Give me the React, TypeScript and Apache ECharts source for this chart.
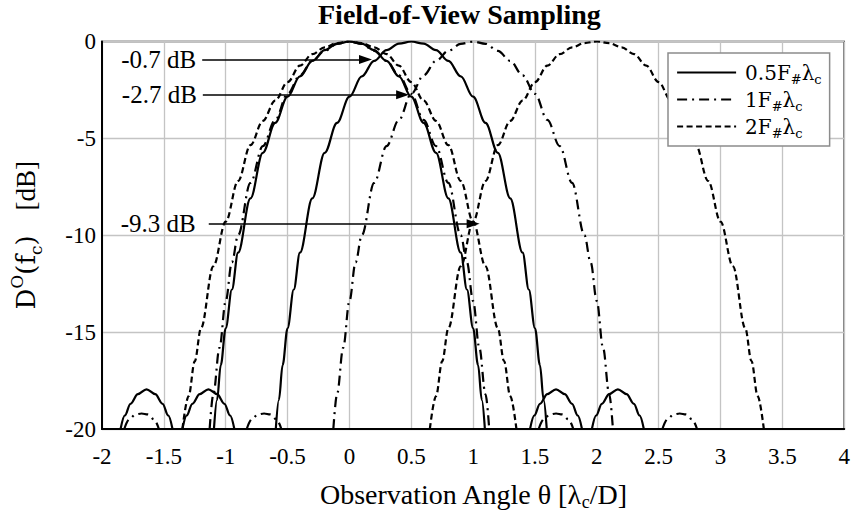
import React, { useEffect, useRef } from "react";
import * as echarts from "echarts";

// ---- tick settings ----
const xMin = -2;
const xMax = 4;
const xStep = 0.5;
const yMin = -20;
const yMax = 0;
const yStep = 5;

// ---- legend names ----
const names = ["0.5F", "1F", "2F"];

// ---- 0.5 F#λc (solid): beams at 0 and 0.5 ----
const solidMain0 = [[-1.095,-20],[-1.07,-18.5],[-1.04,-16.7],[-1.0,-14.8],[-0.95,-12.8],[-0.9,-10.9],[-0.8,-8.1],[-0.7,-5.75],[-0.6,-4.2],[-0.5,-2.85],[-0.4,-1.8],[-0.3,-1.0],[-0.2,-0.45],[-0.1,-0.11],[0,0],[0.1,-0.11],[0.2,-0.45],[0.3,-1.0],[0.4,-1.8],[0.5,-2.85],[0.6,-4.2],[0.7,-5.75],[0.8,-8.1],[0.9,-10.9],[0.95,-12.8],[1.0,-14.8],[1.04,-16.7],[1.07,-18.5],[1.095,-20]];
const solidMain05 = [[-0.595,-20],[-0.57,-18.5],[-0.54,-16.7],[-0.5,-14.8],[-0.45,-12.8],[-0.4,-10.9],[-0.3,-8.1],[-0.2,-5.75],[-0.1,-4.2],[0,-2.85],[0.1,-1.8],[0.2,-1.0],[0.3,-0.45],[0.4,-0.11],[0.5,0],[0.6,-0.11],[0.7,-0.45],[0.8,-1.0],[0.9,-1.8],[1.0,-2.85],[1.1,-4.2],[1.2,-5.75],[1.3,-8.1],[1.4,-10.9],[1.45,-12.8],[1.5,-14.8],[1.54,-16.7],[1.57,-18.5],[1.595,-20]];
const solidSide0L = [[-1.85,-20],[-1.815,-19.3],[-1.77,-18.7],[-1.71,-18.2],[-1.64,-17.95],[-1.57,-18.2],[-1.51,-18.7],[-1.465,-19.3],[-1.43,-20]];
const solidSide0R = [[1.46,-20],[1.495,-19.3],[1.54,-18.7],[1.6,-18.2],[1.67,-17.95],[1.74,-18.2],[1.8,-18.7],[1.845,-19.3],[1.88,-20]];
const solidSide05L = [[-1.35,-20],[-1.315,-19.3],[-1.27,-18.7],[-1.21,-18.2],[-1.14,-17.95],[-1.07,-18.2],[-1.01,-18.7],[-0.965,-19.3],[-0.93,-20]];
const solidSide05R = [[1.96,-20],[1.995,-19.3],[2.04,-18.7],[2.1,-18.2],[2.17,-17.95],[2.24,-18.2],[2.3,-18.7],[2.345,-19.3],[2.38,-20]];

// ---- 1 F#λc (dash-dot): beams at 0 and 1 ----
const dashDotMain0 = [[-1.13,-20],[-1.1,-18.2],[-1.05,-15.8],[-1.0,-13.4],[-0.95,-11.4],[-0.9,-10.0],[-0.8,-7.3],[-0.7,-5.4],[-0.6,-4.05],[-0.5,-2.7],[-0.4,-1.75],[-0.3,-1.0],[-0.2,-0.48],[-0.1,-0.12],[0,0],[0.1,-0.12],[0.2,-0.48],[0.3,-1.0],[0.4,-1.75],[0.5,-2.7],[0.6,-4.05],[0.7,-5.4],[0.8,-7.3],[0.9,-10.0],[0.95,-11.4],[1.0,-13.4],[1.05,-15.8],[1.1,-18.2],[1.13,-20]];
const dashDotMain1 = [[-0.13,-20],[-0.1,-18.2],[-0.05,-15.8],[0,-13.4],[0.05,-11.4],[0.1,-10.0],[0.2,-7.3],[0.3,-5.4],[0.4,-4.05],[0.5,-2.7],[0.6,-1.75],[0.7,-1.0],[0.8,-0.48],[0.9,-0.12],[1,0],[1.1,-0.12],[1.2,-0.48],[1.3,-1.0],[1.4,-1.75],[1.5,-2.7],[1.6,-4.05],[1.7,-5.4],[1.8,-7.3],[1.9,-10.0],[1.95,-11.4],[2.0,-13.4],[2.05,-15.8],[2.1,-18.2],[2.13,-20]];
const dashDotSide0L = [[-1.82,-20],[-1.78,-19.5],[-1.73,-19.25],[-1.68,-19.2],[-1.63,-19.25],[-1.58,-19.5],[-1.54,-20]];
const dashDotSide0R = [[1.53,-20],[1.57,-19.5],[1.62,-19.25],[1.67,-19.2],[1.72,-19.25],[1.77,-19.5],[1.81,-20]];
const dashDotSide1L = [[-0.83,-20],[-0.79,-19.5],[-0.74,-19.25],[-0.69,-19.2],[-0.64,-19.25],[-0.59,-19.5],[-0.55,-20]];
const dashDotSide1R = [[2.53,-20],[2.57,-19.5],[2.62,-19.25],[2.67,-19.2],[2.72,-19.25],[2.77,-19.5],[2.81,-20]];

// ---- 2 F#λc (dashed): beams at 0 and 2 ----
const dashedMain0 = [[-1.35,-20],[-1.3,-18.3],[-1.25,-16.5],[-1.2,-14.8],[-1.1,-11.6],[-1.0,-9.3],[-0.9,-7.2],[-0.8,-5.35],[-0.7,-4.1],[-0.6,-3.05],[-0.5,-2.1],[-0.4,-1.25],[-0.3,-0.65],[-0.2,-0.3],[-0.1,-0.08],[0,0],[0.1,-0.08],[0.2,-0.3],[0.3,-0.65],[0.4,-1.25],[0.5,-2.1],[0.6,-3.05],[0.7,-4.1],[0.8,-5.35],[0.9,-7.2],[1.0,-9.3],[1.1,-11.6],[1.2,-14.8],[1.25,-16.5],[1.3,-18.3],[1.35,-20]];
const dashedMain2 = [[0.65,-20],[0.7,-18.3],[0.75,-16.5],[0.8,-14.8],[0.9,-11.6],[1.0,-9.3],[1.1,-7.2],[1.2,-5.35],[1.3,-4.1],[1.4,-3.05],[1.5,-2.1],[1.6,-1.25],[1.7,-0.65],[1.8,-0.3],[1.9,-0.08],[2,0],[2.1,-0.08],[2.2,-0.3],[2.3,-0.65],[2.4,-1.25],[2.5,-2.1],[2.6,-3.05],[2.7,-4.1],[2.8,-5.35],[2.9,-7.2],[3.0,-9.3],[3.1,-11.6],[3.2,-14.8],[3.25,-16.5],[3.3,-18.3],[3.35,-20]];

// ---- annotations: label, arrow start θ, arrow tip θ, level dB ----
const annoLabels = ["-0.7 dB", "-2.7 dB", "-9.3 dB"];
const annoStart = [-1.19, -1.185, -1.137];
const annoEnd = [0.13, 0.43, 1.0];
const annoLevel = [-0.93, -2.75, -9.4];

const SERIF = "'Liberation Serif', 'Times New Roman', serif";
const MATH = "'DejaVu Serif', serif";

const styles: Record<string, any> = {
  "0.5F": { type: "solid", width: 2.2 },
  "1F": { type: [10, 5, 2, 5], width: 2.2 },
  "2F": { type: [6, 3.5], width: 2.2 },
};

function mk(name: string, data: number[][], extra: any = {}) {
  return {
    type: "line",
    name,
    data,
    symbol: "none",
    showSymbol: false,
    smooth: 0.35,
    smoothMonotone: "x",
    clip: true,
    color: "#000",
    lineStyle: { color: "#000", ...styles[name] },
    emphasis: { disabled: true },
    ...extra,
  };
}

export default function App() {
  const ref = useRef<HTMLDivElement>(null);
  useEffect(() => {
    const chart = echarts.init(ref.current!, null, { renderer: "svg" });
    const markData = annoLabels.map((lab, i) => [
      {
        name: lab,
        coord: [annoStart[i], annoLevel[i]],
        label: { distance: i === 2 ? 13 : 6 },
      },
      { coord: [annoEnd[i], annoLevel[i]] },
    ]);
    const option: any = {
      animation: false,
      backgroundColor: "#fff",
      title: {
        text: "Field-of-View Sampling",
        left: 318,
        top: 0,
        padding: 0,
        textStyle: { fontFamily: SERIF, fontWeight: "bold", fontSize: 28, color: "#000" },
      },
      legend: {
        data: names,
        orient: "vertical",
        left: 668,
        top: 53,
        padding: [6, 8, 6, 8],
        itemGap: 0,
        itemWidth: 59,
        itemHeight: 14,
        backgroundColor: "#fff",
        borderColor: "#8c8c8c",
        borderWidth: 1.5,
        borderRadius: 0,
        selectedMode: false,
        itemStyle: { opacity: 0 },
        lineStyle: { width: 2.2 },
        formatter: (n: string) => `${n}{s|#}λ{s|c}`,
        textStyle: {
          fontFamily: MATH,
          fontSize: 20,
          color: "#000",
          lineHeight: 27,
          padding: [0, 0, 0, 4],
          rich: {
            s: { fontFamily: MATH, fontSize: 13, color: "#000", verticalAlign: "bottom", lineHeight: 27 },
          },
        },
      },
      grid: {
        left: 98,
        right: 8,
        top: 41.5,
        bottom: 82,
        show: true,
        borderColor: "#000",
        borderWidth: 1.5,
        containLabel: false,
      },
      xAxis: {
        type: "value",
        min: xMin,
        max: xMax,
        interval: xStep,
        name: "Observation Angle θ [λ{sub|c}/D]",
        nameLocation: "middle",
        nameGap: 48,
        nameTextStyle: {
          fontFamily: SERIF,
          fontSize: 28,
          color: "#000",
          lineHeight: 34,
          rich: { sub: { fontFamily: SERIF, fontSize: 18, color: "#000", verticalAlign: "bottom", lineHeight: 34 } },
        },
        axisLine: { show: true, onZero: false, lineStyle: { color: "#000", width: 2 } },
        axisTick: { show: false },
        axisLabel: { fontFamily: SERIF, fontSize: 23, color: "#000", margin: 16 },
        splitLine: { show: true, lineStyle: { color: "#c4c4c4", width: 1.3 } },
      },
      yAxis: {
        type: "value",
        min: yMin,
        max: yMax,
        interval: yStep,
        name: "D{sup|O}(f{sub|c})   {db|[dB]}",
        nameLocation: "middle",
        nameGap: 58,
        nameTextStyle: {
          fontFamily: MATH,
          fontSize: 26,
          color: "#000",
          lineHeight: 36,
          rich: {
            sup: { fontFamily: MATH, fontSize: 17, color: "#000", verticalAlign: "top", lineHeight: 36 },
            sub: { fontFamily: MATH, fontSize: 17, color: "#000", verticalAlign: "bottom", lineHeight: 36 },
            db: { fontFamily: SERIF, fontSize: 27, color: "#000", lineHeight: 36 },
          },
        },
        axisLine: { show: true, onZero: false, lineStyle: { color: "#000", width: 2 } },
        axisTick: { show: false },
        axisLabel: { fontFamily: SERIF, fontSize: 23, color: "#000", margin: 6 },
        splitLine: { show: true, lineStyle: { color: "#c4c4c4", width: 1.3 } },
      },
      series: [
        mk("0.5F", solidMain0, {
          markLine: {
            silent: true,
            animation: false,
            symbol: ["none", "triangle"],
            symbolSize: [9, 13],
            lineStyle: { color: "#000", width: 1.5, type: "solid" },
            label: {
              show: true,
              position: "start",
              formatter: "{b}",
              fontFamily: SERIF,
              fontSize: 25,
              color: "#000",
            },
            data: markData,
          },
        }),
        mk("0.5F", solidMain05),
        mk("0.5F", solidSide0L),
        mk("0.5F", solidSide0R),
        mk("0.5F", solidSide05L),
        mk("0.5F", solidSide05R),
        mk("1F", dashDotMain0),
        mk("1F", dashDotMain1),
        mk("1F", dashDotSide0L),
        mk("1F", dashDotSide0R),
        mk("1F", dashDotSide1L),
        mk("1F", dashDotSide1R),
        mk("2F", dashedMain0),
        mk("2F", dashedMain2),
      ],
    };
    chart.setOption(option);
    return () => chart.dispose();
  }, []);
  return (
    <div
      ref={ref}
      style={{ position: "fixed", left: 0, top: 0, width: 853, height: 516, background: "#fff" }}
    />
  );
}
